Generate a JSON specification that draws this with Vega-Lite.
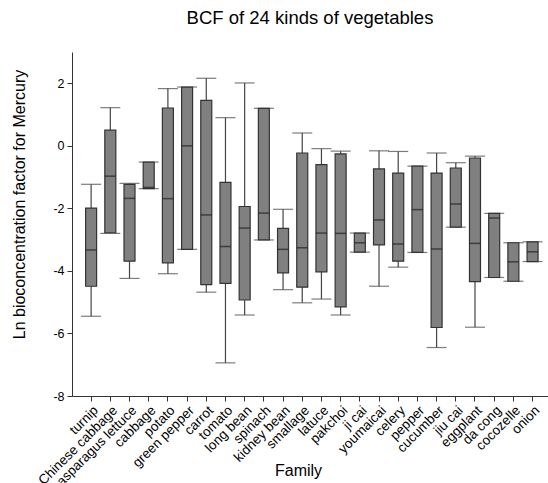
{
  "$schema": "https://vega.github.io/schema/vega-lite/v6.json",
  "autosize": "none",
  "width": 476,
  "height": 344,
  "padding": {"left": 72, "top": 52, "right": 0, "bottom": 87},
  "background": "white",
  "title": {"text": "BCF of 24 kinds of vegetables", "fontSize": 18.5, "font": "Liberation Sans", "fontWeight": "normal", "color": "black", "offset": 25, "anchor": "middle"},
  "config": {"view": {"stroke": null}, "font": "Liberation Sans"},
  "data": {"values": [
    {"veg": "turnip", "lo": -5.45, "q1": -4.49, "med": -3.33, "q3": -1.99, "hi": -1.23},
    {"veg": "Chinese cabbage", "lo": -2.8, "q1": -2.78, "med": -0.97, "q3": 0.5, "hi": 1.22},
    {"veg": "asparagus lettuce", "lo": -4.24, "q1": -3.69, "med": -1.68, "q3": -1.23, "hi": -1.2},
    {"veg": "cabbage", "lo": -1.37, "q1": -1.37, "med": -1.33, "q3": -0.52, "hi": -0.52},
    {"veg": "potato", "lo": -4.09, "q1": -3.74, "med": -1.69, "q3": 1.21, "hi": 1.83},
    {"veg": "green pepper", "lo": -3.31, "q1": -3.31, "med": 0.0, "q3": 1.88, "hi": 1.88},
    {"veg": "carrot", "lo": -4.68, "q1": -4.44, "med": -2.21, "q3": 1.45, "hi": 2.16},
    {"veg": "tomato", "lo": -6.94, "q1": -4.4, "med": -3.22, "q3": -1.17, "hi": 0.9},
    {"veg": "long bean", "lo": -5.41, "q1": -4.93, "med": -2.63, "q3": -1.94, "hi": 2.01},
    {"veg": "spinach", "lo": -3.01, "q1": -3.01, "med": -2.15, "q3": 1.2, "hi": 1.2},
    {"veg": "kidney bean", "lo": -4.6, "q1": -4.06, "med": -3.31, "q3": -2.64, "hi": -2.03},
    {"veg": "smallage", "lo": -5.02, "q1": -4.52, "med": -3.26, "q3": -0.23, "hi": 0.41},
    {"veg": "latuce", "lo": -4.9, "q1": -4.03, "med": -2.79, "q3": -0.6, "hi": -0.09},
    {"veg": "pakchoi", "lo": -5.41, "q1": -5.15, "med": -2.8, "q3": -0.26, "hi": -0.17},
    {"veg": "ji cai", "lo": -3.4, "q1": -3.4, "med": -3.1, "q3": -2.79, "hi": -2.79},
    {"veg": "youmaicai", "lo": -4.49, "q1": -3.17, "med": -2.37, "q3": -0.74, "hi": -0.16},
    {"veg": "celery", "lo": -3.88, "q1": -3.69, "med": -3.14, "q3": -0.87, "hi": -0.18},
    {"veg": "pepper", "lo": -3.41, "q1": -3.41, "med": -2.04, "q3": -0.65, "hi": -0.65},
    {"veg": "cucumber", "lo": -6.45, "q1": -5.81, "med": -3.3, "q3": -0.87, "hi": -0.23},
    {"veg": "jiu cai", "lo": -2.6, "q1": -2.6, "med": -1.86, "q3": -0.71, "hi": -0.54},
    {"veg": "eggplant", "lo": -5.8, "q1": -4.34, "med": -3.12, "q3": -0.39, "hi": -0.33},
    {"veg": "da cong", "lo": -4.21, "q1": -4.21, "med": -2.31, "q3": -2.16, "hi": -2.16},
    {"veg": "cocozelle", "lo": -4.33, "q1": -4.33, "med": -3.71, "q3": -3.1, "hi": -3.1},
    {"veg": "onion", "lo": -3.7, "q1": -3.7, "med": -3.39, "q3": -3.07, "hi": -3.07}
  ]},
  "encoding": {
    "x": {
      "field": "veg", "type": "nominal", "sort": null,
      "scale": {"type": "band", "paddingInner": 0, "paddingOuter": 0.4, "align": 0.62},
      "axis": {
        "title": "Family", "titleFontSize": 16, "titleFontWeight": "normal", "titleColor": "black",
        "titleX": 226, "titleY": 79, "titleBaseline": "alphabetic", "titleAnchor": null,
        "labelAngle": -45, "labelFontSize": 13.5, "labelColor": "black", "labelPadding": 2,
        "domainColor": "#333", "tickColor": "#333", "tickSize": 5, "grid": false, "labelOverlap": false, "labelBound": false
      }
    }
  },
  "layer": [
    {
      "mark": {"type": "rule", "color": "#444", "strokeWidth": 1.2},
      "encoding": {
        "y": {"field": "lo", "type": "quantitative",
          "scale": {"domain": [-8, 3], "nice": false, "zero": false},
          "axis": {
            "title": "Ln bioconcentration factor for Mercury", "titleFontSize": 16, "titleFontWeight": "normal", "titleColor": "black",
            "titleX": -53, "titleY": 152, "titleBaseline": "middle", "titleAngle": -90, "titleAlign": "center",
            "values": [-8, -6, -4, -2, 0, 2], "labelExpr": "'' + datum.value", "labelFontSize": 12.5, "labelColor": "black", "labelPadding": 3,
            "domainColor": "#333", "tickColor": "#333", "tickSize": 5, "grid": false
          }},
        "y2": {"field": "hi"}
      }
    },
    {
      "mark": {"type": "tick", "color": "#444", "size": 20, "thickness": 1.2},
      "encoding": {"y": {"field": "lo", "type": "quantitative"}}
    },
    {
      "mark": {"type": "tick", "color": "#444", "size": 20, "thickness": 1.2},
      "encoding": {"y": {"field": "hi", "type": "quantitative"}}
    },
    {
      "mark": {"type": "bar", "color": "#808080", "stroke": "#333", "strokeWidth": 1.2, "size": 11},
      "encoding": {"y": {"field": "q1", "type": "quantitative"}, "y2": {"field": "q3"}}
    },
    {
      "mark": {"type": "tick", "color": "#222", "size": 11, "thickness": 1.5},
      "encoding": {"y": {"field": "med", "type": "quantitative"}}
    }
  ]
}
